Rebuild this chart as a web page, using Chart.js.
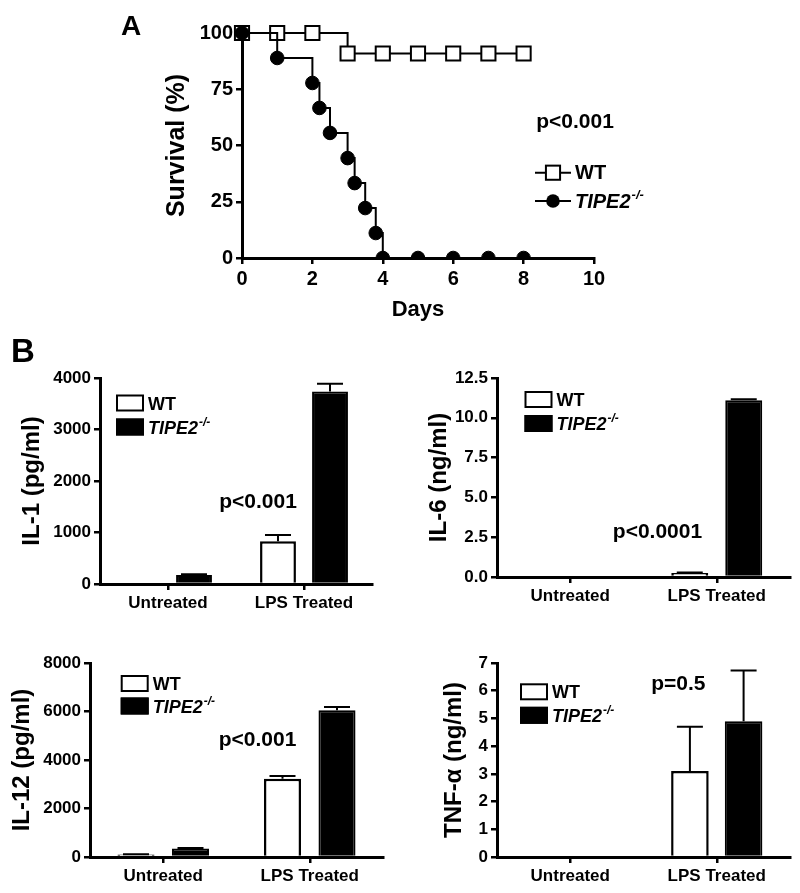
<!DOCTYPE html>
<html><head><meta charset="utf-8">
<script src="https://cdn.jsdelivr.net/npm/chart.js@4.4.1/dist/chart.umd.min.js"></script>
<style>
html,body{margin:0;padding:0;background:#fff;}
#wrap{position:relative;width:800px;height:893px;background:#fff;}
canvas{position:absolute;left:0;top:0;}
</style></head><body>
<div id="wrap">
<canvas id="cA" width="800" height="893"></canvas>
<canvas id="cIL1" width="800" height="893"></canvas>
<canvas id="cIL6" width="800" height="893"></canvas>
<canvas id="cIL12" width="800" height="893"></canvas>
<canvas id="cTNF" width="800" height="893"></canvas>
</div>
<script>
// ---------- Data ----------
// Panel A: Kaplan-Meier survival
const daysWT = [0, 1, 2, 3, 4, 5, 6, 7, 8];
const survWT = [100, 100, 100, 90.9, 90.9, 90.9, 90.9, 90.9, 90.9];
const daysKO = [0, 1, 2, 2.2, 2.5, 3, 3.2, 3.5, 3.8, 4, 5, 6, 7, 8];
const survKO = [100, 88.9, 77.8, 66.7, 55.6, 44.4, 33.3, 22.2, 11.1, 0, 0, 0, 0, 0];
const daysTicks = [0, 2, 4, 6, 8, 10];
const survTicks = [0, 25, 50, 75, 100];

// Series names
const seriesNames = ['WT', 'TIPE2'];
const seriesSup = ['', '-/-'];
const seriesItalic = [false, true];

// Panel B: cytokines
const categories = ['Untreated', 'LPS Treated'];
const il1WT = [0, 830],   il1WTerr = [0, 120];
const il1KO = [175, 3740], il1KOerr = [15, 150];
const il6WT = [0, 0.25],  il6WTerr = [0, 0.03];
const il6KO = [0, 11.1],  il6KOerr = [0, 0.06];
const il12WT = [100, 3230], il12WTerr = [10, 110];
const il12KO = [350, 6050], il12KOerr = [20, 140];
const tnfWT = [0, 3.1],  tnfWTerr = [0, 1.6];
const tnfKO = [0, 4.9],  tnfKOerr = [0, 1.83];

// ---------- Setup ----------
const FONT = "'Liberation Sans', Arial, Helvetica, sans-serif";
Chart.defaults.font.family = FONT;
Chart.defaults.color = '#000';

function drawLabel(ctx, item, x, y, size, supSize) {
  ctx.font = (item.italic ? 'italic ' : '') + 'bold ' + size + 'px ' + FONT;
  ctx.textAlign = 'left';
  ctx.textBaseline = 'alphabetic';
  ctx.fillText(item.text, x, y);
  if (item.sup) {
    const w = ctx.measureText(item.text).width;
    ctx.font = (item.italic ? 'italic ' : '') + 'bold ' + supSize + 'px ' + FONT;
    ctx.fillText(item.sup, x + w + 1, y - size * 0.42);
  }
}

const decor = {
  id: 'decor',
  afterDraw(chart, args, opts) {
    const ctx = chart.ctx;
    ctx.save();
    ctx.fillStyle = '#000';
    (opts.texts || []).forEach(t => {
      ctx.font = 'bold ' + t.size + 'px ' + FONT;
      ctx.textAlign = t.align || 'left';
      ctx.textBaseline = 'alphabetic';
      ctx.fillText(t.text, t.x, t.y);
    });
    const lg = opts.legend;
    if (lg) {
      chart.data.datasets.forEach((ds, i) => {
        const item = {text: seriesNames[i], sup: seriesSup[i], italic: seriesItalic[i]};
        if (lg.kind === 'box') {
          const y0 = lg.y + i * lg.gap;
          ctx.fillStyle = ds.backgroundColor;
          ctx.fillRect(lg.x, y0, lg.w, lg.h);
          ctx.strokeStyle = '#000';
          ctx.lineWidth = 2;
          ctx.strokeRect(lg.x + 1, y0 + 1, lg.w - 2, lg.h - 2);
          ctx.fillStyle = '#000';
          drawLabel(ctx, item, lg.x + lg.w + 4, y0 + lg.h - 2, lg.size, lg.supSize);
        } else {
          const yc = lg.y + i * lg.gap;
          ctx.strokeStyle = '#000';
          ctx.lineWidth = 2;
          ctx.beginPath();
          ctx.moveTo(lg.x, yc); ctx.lineTo(lg.x + lg.len, yc); ctx.stroke();
          const cx = lg.x + lg.len / 2;
          if (ds.pointStyle === 'rect') {
            const s = ds.pointRadius * Math.SQRT1_2;
            ctx.fillStyle = ds.pointBackgroundColor;
            ctx.fillRect(cx - s, yc - s, 2 * s, 2 * s);
            ctx.strokeRect(cx - s, yc - s, 2 * s, 2 * s);
          } else {
            ctx.fillStyle = ds.pointBackgroundColor;
            ctx.beginPath(); ctx.arc(cx, yc, ds.pointRadius, 0, Math.PI * 2); ctx.fill();
          }
          ctx.fillStyle = '#000';
          drawLabel(ctx, item, lg.textX, yc + lg.size * 0.33, lg.size, lg.supSize);
        }
      });
    }
    ctx.restore();
  }
};

const errorBars = {
  id: 'errorBars',
  afterDatasetsDraw(chart, args, opts) {
    const ctx = chart.ctx, ys = chart.scales.y;
    ctx.save();
    ctx.strokeStyle = '#000';
    ctx.lineWidth = 2;
    chart.data.datasets.forEach((ds, di) => {
      if (!ds.errors) return;
      const meta = chart.getDatasetMeta(di);
      meta.data.forEach((bar, i) => {
        const e = ds.errors[i];
        if (!e) return;
        const yTop = ys.getPixelForValue(ds.data[i] + e);
        const cap = opts.cap || 26;
        ctx.beginPath();
        ctx.moveTo(bar.x, bar.y); ctx.lineTo(bar.x, yTop);
        ctx.moveTo(bar.x - cap / 2, yTop); ctx.lineTo(bar.x + cap / 2, yTop);
        ctx.stroke();
      });
    });
    ctx.restore();
  }
};

function axisCommon(tickSize) {
  return {
    grid: {drawOnChartArea: false, drawTicks: true, tickLength: 6, color: '#000', lineWidth: 2.5},
    border: {display: true, color: '#000', width: 3},
    ticks: {color: '#000', font: {size: tickSize, weight: 'bold'}, padding: 3}
  };
}

// ---------- Panel A ----------
const pts = (xs, ys) => xs.map((x, i) => ({x: x, y: ys[i]}));
(function () {
  const xAx = axisCommon(20), yAx = axisCommon(20);
  new Chart(document.getElementById('cA'), {
    type: 'line',
    data: {datasets: [
      {label: seriesNames[0], data: pts(daysWT, survWT), stepped: 'before', borderColor: '#000', borderWidth: 2,
       pointStyle: 'rect', pointRadius: 10, pointBackgroundColor: '#fff', pointBorderColor: '#000', pointBorderWidth: 2,
       fill: false, order: 2, clip: {left: 15, top: 15, right: 15, bottom: 0}},
      {label: seriesNames[1], data: pts(daysKO, survKO), stepped: 'before', borderColor: '#000', borderWidth: 2,
       pointStyle: 'circle', pointRadius: 6.8, pointBackgroundColor: '#000', pointBorderColor: '#000', pointBorderWidth: 1,
       fill: false, order: 1, clip: {left: 15, top: 15, right: 15, bottom: 0}}
    ]},
    options: {
      responsive: false, animation: false, devicePixelRatio: 1,
      layout: {padding: {left: 162, right: 206, top: 33, bottom: 570}},
      plugins: {
        legend: {display: false}, tooltip: {enabled: false},
        decor: {
          texts: [{text: 'A', x: 131, y: 35, size: 28, align: 'center'},
                  {text: 'p<0.001', x: 575, y: 128, size: 21, align: 'center'}],
          legend: {kind: 'line', x: 535, y: 172.7, gap: 28.3, len: 36, textX: 575, size: 20, supSize: 13}
        }
      },
      scales: {
        x: Object.assign(xAx, {
          type: 'linear', min: daysTicks[0], max: daysTicks[daysTicks.length - 1],
          afterBuildTicks(s) { s.ticks = daysTicks.map(v => ({value: v})); },
          title: {display: true, text: 'Days', font: {size: 22, weight: 'bold'}, padding: 0, color: '#000'},
          afterFit(s) { s.height = 65; }
        }),
        y: Object.assign(yAx, {
          min: survTicks[0], max: survTicks[survTicks.length - 1],
          afterBuildTicks(s) { s.ticks = survTicks.map(v => ({value: v})); },
          title: {display: true, text: 'Survival (%)', font: {size: 25, weight: 'bold'}, padding: 0, color: '#000'},
          afterFit(s) { s.width = 80; }
        })
      }
    },
    plugins: [decor]
  });
})();

// ---------- Panel B ----------
function barChart(id, o) {
  const xAx = axisCommon(17), yAx = axisCommon(17);
  xAx.grid.offset = false;
  xAx.ticks.maxRotation = 0; xAx.ticks.autoSkip = false;
  return new Chart(document.getElementById(id), {
    type: 'bar',
    data: {labels: categories, datasets: [
      {label: seriesNames[0], data: o.wt, errors: o.wtErr, backgroundColor: '#fff', borderColor: '#000', borderWidth: 2.5,
       categoryPercentage: o.cat, barPercentage: o.bar},
      {label: seriesNames[1], data: o.ko, errors: o.koErr, backgroundColor: '#000', borderColor: '#000', borderWidth: 2,
       categoryPercentage: o.cat, barPercentage: o.bar}
    ]},
    options: {
      responsive: false, animation: false, devicePixelRatio: 1,
      layout: {padding: o.pad},
      plugins: {legend: {display: false}, tooltip: {enabled: false},
        decor: {texts: o.texts, legend: Object.assign({kind: 'box', w: 28, h: 17, size: 18, supSize: 12}, o.legend)},
        errorBars: {cap: 26}},
      scales: {
        x: Object.assign(xAx, {afterFit(s) { s.height = o.xh; }}),
        y: Object.assign(yAx, {
          min: 0, max: o.max,
          ticks: Object.assign(yAx.ticks, {stepSize: o.step, callback: o.fmt}),
          title: {display: true, text: o.title, font: {size: 24, weight: 'bold'}, padding: 0, color: '#000'},
          afterFit(s) { s.width = o.yw; }
        })
      }
    },
    plugins: [errorBars, decor]
  });
}

barChart('cIL1', {
  wt: il1WT, wtErr: il1WTerr, ko: il1KO, koErr: il1KOerr, max: 4000, step: 1000, fmt: v => String(v),
  title: 'IL-1 (pg/ml)', cat: 0.765, bar: 0.69,
  pad: {left: 18, right: 428, top: 378, bottom: 269}, yw: 82, xh: 40,
  texts: [{text: 'B', x: 23, y: 362, size: 33, align: 'center'},
          {text: 'p<0.001', x: 258, y: 508, size: 21, align: 'center'}],
  legend: {x: 116, y: 394.5, gap: 24}
});
barChart('cIL6', {
  wt: il6WT, wtErr: il6WTerr, ko: il6KO, koErr: il6KOerr, max: 12.5, step: 2.5, fmt: v => v.toFixed(1),
  title: 'IL-6 (ng/ml)', cat: 0.737, bar: 0.685,
  pad: {left: 425, right: 10, top: 378, bottom: 276}, yw: 72, xh: 40,
  texts: [{text: 'p<0.0001', x: 657.5, y: 538, size: 21, align: 'center'}],
  legend: {x: 524.5, y: 391, gap: 24}
});
barChart('cIL12', {
  wt: il12WT, wtErr: il12WTerr, ko: il12KO, koErr: il12KOerr, max: 8000, step: 2000, fmt: v => String(v),
  title: 'IL-12 (pg/ml)', cat: 0.744, bar: 0.68,
  pad: {left: 8, right: 417, top: 663, bottom: 0}, yw: 82, xh: 36,
  texts: [{text: 'p<0.001', x: 257.5, y: 746, size: 21, align: 'center'}],
  legend: {x: 120.7, y: 675, gap: 22.5}
});
barChart('cTNF', {
  wt: tnfWT, wtErr: tnfWTerr, ko: tnfKO, koErr: tnfKOerr, max: 7, step: 1, fmt: v => String(v),
  title: 'TNF-α (ng/ml)', cat: 0.733, bar: 0.70,
  pad: {left: 440, right: 10, top: 663, bottom: 0}, yw: 57, xh: 36,
  texts: [{text: 'p=0.5', x: 678.3, y: 690, size: 21, align: 'center'}],
  legend: {x: 520, y: 683.3, gap: 23.5}
});
</script>
</body></html>
